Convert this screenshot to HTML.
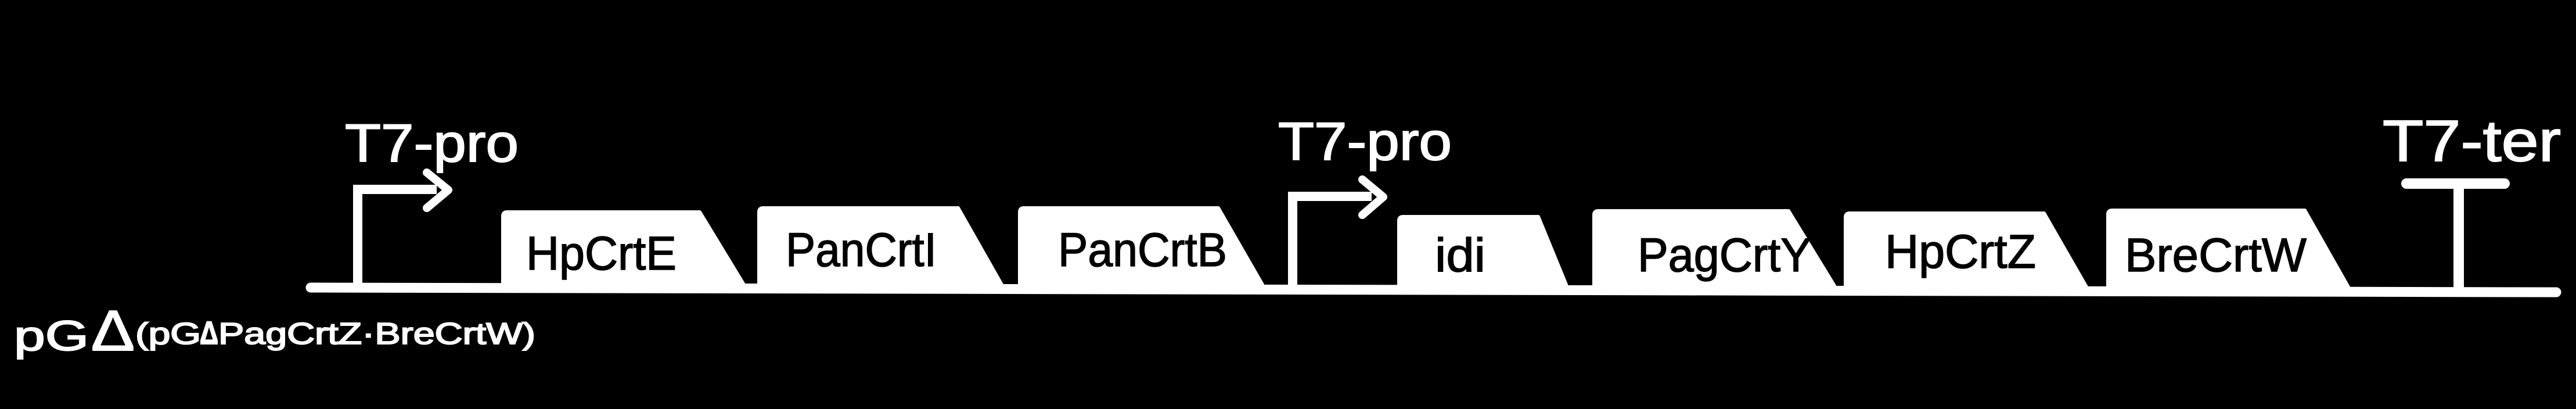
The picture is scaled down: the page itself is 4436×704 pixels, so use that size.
<!DOCTYPE html>
<html><head><meta charset="utf-8"><style>
html,body{margin:0;padding:0;background:#000;}
svg{display:block;}
text{font-family:"Liberation Sans",sans-serif;fill:#fff;stroke:#fff;stroke-width:2;}
.g{fill:#000;stroke:#000;stroke-width:1.5;}
</style></head><body>
<svg width="4436" height="704" viewBox="0 0 4436 704" xmlns="http://www.w3.org/2000/svg">
<rect width="4436" height="704" fill="#000"/>
<!-- backbone -->
<line x1="535" y1="495" x2="4402" y2="503" stroke="#fff" stroke-width="17" stroke-linecap="round"/>
<!-- promoter 1 -->
<path d="M616 495 V326 H752" fill="none" stroke="#fff" stroke-width="16"/>
<path d="M735 297 L772 327 L735 358" fill="none" stroke="#fff" stroke-width="14" stroke-linejoin="round" stroke-linecap="round"/>
<text x="594" y="278" font-size="92" textLength="299" lengthAdjust="spacingAndGlyphs">T7-pro</text>
<!-- promoter 2 -->
<path d="M2226 495 V338 H2362" fill="none" stroke="#fff" stroke-width="16"/>
<path d="M2346 309 L2382 339 L2346 370" fill="none" stroke="#fff" stroke-width="14" stroke-linejoin="round" stroke-linecap="round"/>
<text x="2201" y="275" font-size="92" textLength="299" lengthAdjust="spacingAndGlyphs">T7-pro</text>
<!-- terminator -->
<line x1="4234" y1="500" x2="4234" y2="316" stroke="#fff" stroke-width="18"/>
<line x1="4144" y1="316" x2="4313" y2="316" stroke="#fff" stroke-width="18" stroke-linecap="round"/>
<text x="4103" y="277" font-size="100" textLength="307" lengthAdjust="spacingAndGlyphs">T7-ter</text>
<!-- genes -->
<g fill="#fff" stroke="#fff" stroke-width="6" stroke-linejoin="round">
<path d="M866 492 V372 Q866 365 873 365 H1205 L1281 490 Z"/>
<path d="M1307 492 V365 Q1307 358 1314 358 H1650 L1725 490 Z"/>
<path d="M1756 492 V365 Q1756 358 1763 358 H2098 L2174 490 Z"/>
<path d="M2409 492 V380 Q2409 373 2416 373 H2649 L2697 490 Z"/>
<path d="M2745 494 V370 Q2745 363 2752 363 H3080 L3159 492 Z"/>
<path d="M3178 496 V374 Q3178 367 3185 367 H3520 L3593 494 Z"/>
<path d="M3630 498 V369 Q3630 362 3637 362 H3969 L4045 496 Z"/>
</g>
<g font-size="82">
<text class="g" x="906" y="464" textLength="259" lengthAdjust="spacingAndGlyphs">HpCrtE</text>
<text class="g" x="1353" y="458" textLength="260" lengthAdjust="spacingAndGlyphs">PanCrtI</text>
<text class="g" x="1822" y="458" textLength="291" lengthAdjust="spacingAndGlyphs">PanCrtB</text>
<text class="g" x="2471" y="467" textLength="87" lengthAdjust="spacingAndGlyphs">idi</text>
<text class="g" x="2820" y="467" textLength="299" lengthAdjust="spacingAndGlyphs">PagCrtY</text>
<text class="g" x="3246" y="461" textLength="260" lengthAdjust="spacingAndGlyphs">HpCrtZ</text>
<text class="g" x="3659" y="467" textLength="313" lengthAdjust="spacingAndGlyphs">BreCrtW</text>
</g>
<!-- bottom label -->
<text x="24" y="603" font-size="72" textLength="129" lengthAdjust="spacingAndGlyphs">pG</text>
<text x="157" y="603" font-size="98" textLength="75" lengthAdjust="spacingAndGlyphs">Δ</text>
<text x="233" y="592" font-size="52" textLength="113" lengthAdjust="spacingAndGlyphs">(pG</text>
<text x="344" y="592" font-size="56" font-weight="bold" textLength="32" lengthAdjust="spacingAndGlyphs">Δ</text>
<text x="376" y="592" font-size="52" textLength="546" lengthAdjust="spacingAndGlyphs">PagCrtZ·BreCrtW)</text>
</svg>
</body></html>
